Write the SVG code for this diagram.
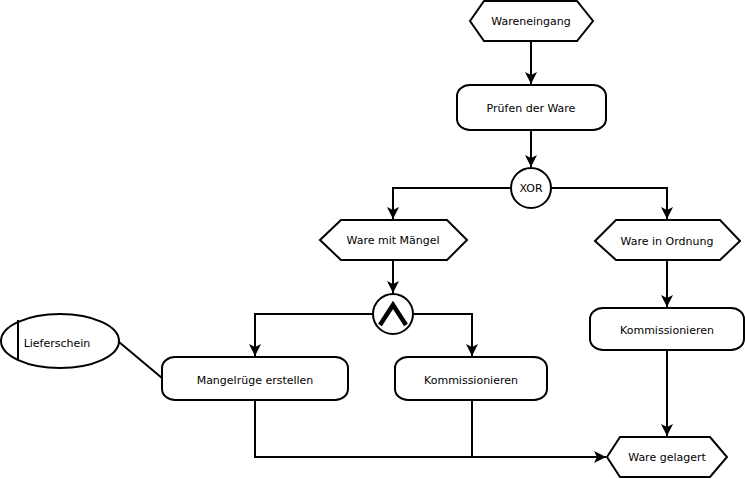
<svg xmlns="http://www.w3.org/2000/svg" width="745" height="479" viewBox="0 0 745 479">
<style>
.s{fill:#fff;stroke:#000;stroke-width:2}
.c{fill:none;stroke:#000;stroke-width:2}
text{font-family:"DejaVu Sans",Verdana,sans-serif;font-size:11px;fill:#000;text-anchor:middle;dominant-baseline:central}
</style>
<defs>
<marker id="a" viewBox="0 0 12 12" refX="12" refY="6" markerWidth="12" markerHeight="12" markerUnits="userSpaceOnUse" orient="auto">
<path d="M0,0 L12,6 L0,12 L3,6 Z" fill="#000"/>
</marker>
</defs>
<rect width="745" height="479" fill="#fff"/>
<g id="connectors">
<path class="c" d="M531,41 V84" marker-end="url(#a)"/>
<path class="c" d="M531,130 V167" marker-end="url(#a)"/>
<path class="c" d="M511,188 H393 V219" marker-end="url(#a)"/>
<path class="c" d="M550,188 H667 V219" marker-end="url(#a)"/>
<path class="c" d="M393,260 V293" marker-end="url(#a)"/>
<path class="c" d="M667,260 V307" marker-end="url(#a)"/>
<path class="c" d="M373,314 H255 V356" marker-end="url(#a)"/>
<path class="c" d="M413,314 H472 V356" marker-end="url(#a)"/>
<path class="c" d="M119,342 L162,378"/>
<path class="c" d="M255,400 V457 H606" marker-end="url(#a)"/>
<path class="c" d="M472,400 V457"/>
<path class="c" d="M667,350 V436" marker-end="url(#a)"/>
</g>
<g id="wareneingang">
<polygon class="s" points="470,21 484,1 577,1 593,21 577,41 484,41"/>
<text x="531" y="21">Wareneingang</text>
</g>
<g id="pruefen">
<rect class="s" x="457" y="85" width="149" height="45" rx="13" ry="11"/>
<text x="531" y="108">Prüfen der Ware</text>
</g>
<g id="xor">
<circle class="s" cx="531" cy="188" r="20"/>
<text x="531" y="188">XOR</text>
</g>
<g id="ware-mit-maengel">
<polygon class="s" points="320,240 341,220 447,220 467,240 447,260 341,260"/>
<text x="393" y="240">Ware mit Mängel</text>
</g>
<g id="ware-in-ordnung">
<polygon class="s" points="595,241 616,220 720,220 740,241 720,260 616,260"/>
<text x="667" y="241">Ware in Ordnung</text>
</g>
<g id="and">
<circle class="s" cx="393" cy="314" r="20"/>
<path d="M380,325 L393,305 L406,325" fill="none" stroke="#000" stroke-width="4.5"/>
</g>
<g id="kommissionieren-rechts">
<rect class="s" x="590" y="308" width="154" height="42" rx="13" ry="11"/>
<text x="667" y="330">Kommissionieren</text>
</g>
<g id="lieferschein">
<ellipse class="s" cx="60" cy="341" rx="59" ry="27"/>
<line x1="18" y1="320" x2="18" y2="361" stroke="#000" stroke-width="2"/>
<text x="57" y="343">Lieferschein</text>
</g>
<g id="mangelruege">
<rect class="s" x="162" y="357" width="186" height="43" rx="13" ry="11"/>
<text x="255" y="380">Mangelrüge erstellen</text>
</g>
<g id="kommissionieren-links">
<rect class="s" x="395" y="357" width="152" height="43" rx="13" ry="11"/>
<text x="471" y="380">Kommissionieren</text>
</g>
<g id="ware-gelagert">
<polygon class="s" points="607,457 620,437 710,437 727,457 710,477 620,477"/>
<text x="667" y="457">Ware gelagert</text>
</g>
</svg>
